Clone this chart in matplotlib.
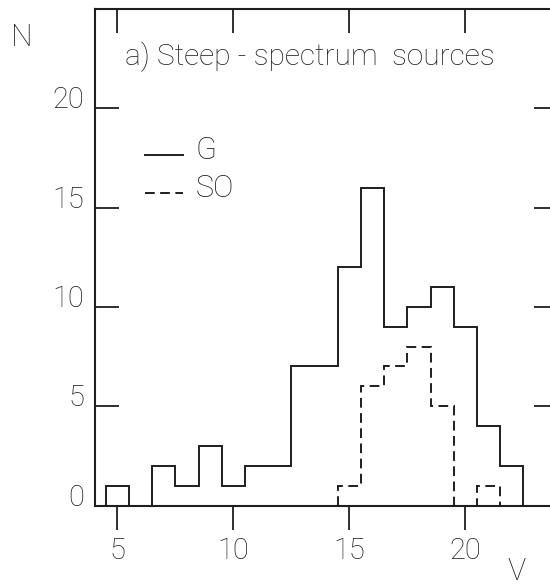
import matplotlib
matplotlib.use("Agg")
import matplotlib.pyplot as plt
import numpy as np
from matplotlib.lines import Line2D
from matplotlib.legend_handler import HandlerLine2D

# V magnitude bins (centres) and counts
g_centres = [5, 6, 7, 8, 9, 10, 11, 12, 13, 14, 15, 16, 17, 18, 19, 20, 21, 22]
g_counts = [1, 0, 2, 1, 3, 1, 2, 2, 7, 7, 12, 16, 9, 10, 11, 9, 4, 2]

so_centres = [15, 16, 17, 18, 19, 20, 21]
so_counts = [1, 6, 7, 8, 5, 0, 1]

x_ticks = [5, 10, 15, 20]
y_ticks = [0, 5, 10, 15, 20]

plt.rcParams['font.family'] = ['Roboto', 'DejaVu Sans']
plt.rcParams['font.weight'] = 'light'
INK = "#1e1e1e"
DASH = (0, (5, 2.8))


def edges(centres):
    c = np.asarray(centres, dtype=float)
    return np.append(c - 0.5, c[-1] + 0.5)


class LowLine(HandlerLine2D):
    # legend line sits near the baseline of the label, like the original
    def create_artists(self, legend, orig_handle, xdescent, ydescent,
                       width, height, fontsize, trans):
        return super().create_artists(legend, orig_handle, xdescent,
                                      ydescent + 0.45 * fontsize, width, height,
                                      fontsize, trans)


fig = plt.figure(figsize=(5.5, 5.87), dpi=100)
ax = fig.add_axes([0.1727, 0.1388, 0.832, 0.8459])

ax.stairs(g_counts, edges(g_centres), baseline=0, color=INK, linewidth=1.4)
ax.stairs(so_counts, edges(so_centres), baseline=0, color=INK, linewidth=1.4,
          linestyle=DASH)

ax.set_xlim(4.03, 23.76)
ax.set_ylim(0, 25)
ax.set_xticks(x_ticks)
ax.set_yticks(y_ticks)

for sp in ax.spines.values():
    sp.set_linewidth(1.5)
    sp.set_color(INK)

ax.tick_params(axis='x', bottom=True, top=True, direction='out', length=17,
               width=1.3, color=INK, pad=6, labelsize=21, labelcolor=INK)
ax.tick_params(axis='y', left=True, right=True, direction='in', length=17,
               width=1.3, color=INK, pad=8, labelsize=21, labelcolor=INK)
# top ticks point inward, right ticks a bit shorter
for t in ax.xaxis.get_major_ticks():
    t.tick2line.set_marker(3)
    t.tick2line.set_markersize(17)
for t in ax.yaxis.get_major_ticks():
    t.tick2line.set_markersize(14)
for lab in ax.get_yticklabels():
    lab.set_verticalalignment('baseline')

ax.text(0.0655, 0.903, "a) Steep - spectrum  sources", transform=ax.transAxes,
        fontsize=21.5, color=INK, ha='left', va='center')

handles = [Line2D([], [], color=INK, linewidth=1.4),
           Line2D([], [], color=INK, linewidth=1.4, linestyle=DASH)]
ax.legend(handles, ["G", "SO"], loc='upper left', bbox_to_anchor=(0.109, 0.744),
          frameon=False, fontsize=22, handlelength=1.25, handletextpad=0.4,
          labelspacing=0.28, borderpad=0, borderaxespad=0,
          handler_map={Line2D: LowLine()}, labelcolor=INK)

fig.text(22 / 550, 1 - 37 / 587, "N", fontsize=22, color=INK, ha='center', va='center')
fig.text(517 / 550, 1 - 571 / 587, "V", fontsize=22, color=INK, ha='center', va='center')

fig.savefig("out.png", dpi=100)
